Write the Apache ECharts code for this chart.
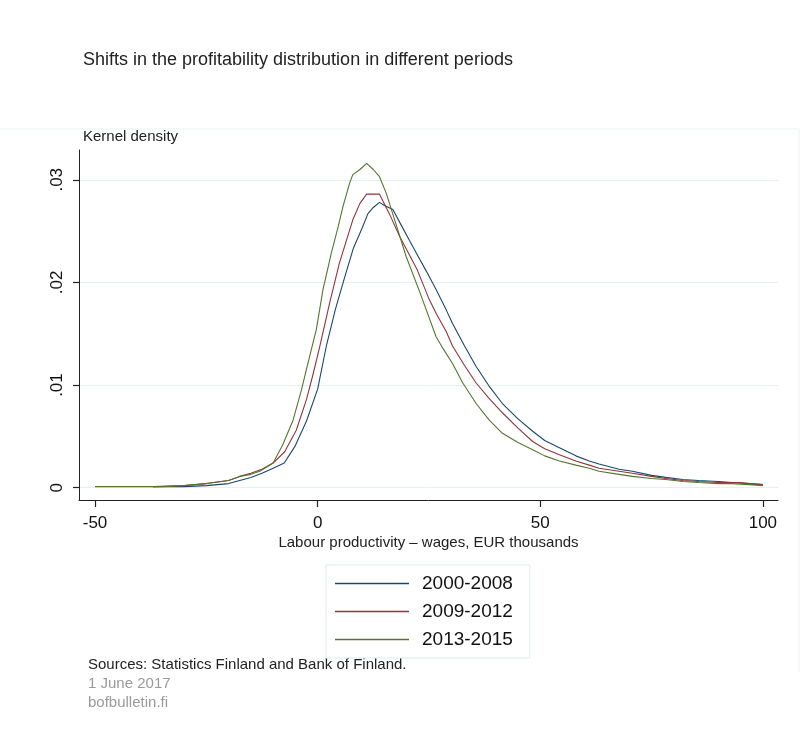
<!DOCTYPE html>
<html>
	<head>
		<meta charset="utf-8" />
		<title>Profitability distribution</title>
		<style type="text/css">
			body,
			html,
			#chart {
				width: 100%;
				height: 100%;
				overflow: hidden;
				margin: 0;
				background: #fff;
			}
		</style>
	</head>
	<body>
		<div id="chart"></div>
		<script src="https://cdn.jsdelivr.net/npm/echarts@6/dist/echarts.min.js"></script>
		<script>
			// values (x = EUR thousands, y = kernel density)
			var names = ['2000-2008', '2009-2012', '2013-2015'];
			var colors = ['#1a476f', '#90353b', '#55752f'];

			var x0008 = [-37, -30, -25, -20, -17.5, -15, -12.5, -10, -7.5, -5, -2.5, 0, 2, 4, 6, 8, 10, 11.3, 12.5, 13.9, 15, 16.9, 18.5, 20.6, 22.5, 24.4, 26.6, 28.9, 30.3, 33, 35.6, 38.5, 41.5, 45, 48.3, 51, 54.3, 58, 61, 63.2, 67.7, 70.7, 75, 78.2, 82, 85.6, 90, 93.1, 97, 100];
			var y0008 = [0.0001, 0.0001, 0.0002, 0.0004, 0.0007, 0.0010, 0.0014, 0.0019, 0.0024, 0.0041, 0.0065, 0.0096, 0.0139, 0.0174, 0.0204, 0.0233, 0.0253, 0.0267, 0.0273, 0.0278, 0.0275, 0.0271, 0.0258, 0.0241, 0.0226, 0.0211, 0.0193, 0.0173, 0.0160, 0.0138, 0.0118, 0.0099, 0.0082, 0.0067, 0.0055, 0.0046, 0.0039, 0.0031, 0.0026, 0.0023, 0.0018, 0.0016, 0.0012, 0.0010, 0.0008, 0.0007, 0.0006, 0.0005, 0.0004, 0.0003];

			var x0912 = [-37, -30, -25, -20, -17.5, -15, -12.5, -10, -7.4, -4.8, -2.5, -1, 0.5, 2.7, 4.9, 7.9, 9.5, 11, 13.9, 16.1, 18.4, 22.4, 25.1, 26.6, 28.9, 30.3, 33, 35.6, 38.5, 41.5, 45, 48.3, 51, 54.3, 58, 61, 63.2, 67.7, 70.7, 75, 78.2, 82, 85.6, 90, 94.6, 97, 100];
			var y0912 = [0.0001, 0.0002, 0.0004, 0.0007, 0.0011, 0.0014, 0.0018, 0.0024, 0.0035, 0.0056, 0.0086, 0.0111, 0.0138, 0.0180, 0.0219, 0.0261, 0.0277, 0.0286, 0.0286, 0.0267, 0.0245, 0.0212, 0.0183, 0.0170, 0.0152, 0.0138, 0.0119, 0.0102, 0.0087, 0.0073, 0.0058, 0.0045, 0.0038, 0.0032, 0.0026, 0.0022, 0.0019, 0.0016, 0.0014, 0.0011, 0.0009, 0.0007, 0.0006, 0.0005, 0.0005, 0.0004, 0.0003];

			var x1315 = [-50, -40, -35, -30, -25, -20, -17.5, -15, -13, -10, -7.8, -5.5, -3.65, -1.8, -0.3, 1.2, 3.1, 4.6, 5.7, 7.2, 7.9, 9.5, 11, 12.5, 13.9, 15.4, 17.3, 19.9, 22.9, 25.1, 26.6, 28.1, 30.3, 32.6, 35.6, 38.5, 41.5, 45, 48.3, 51, 54.3, 58, 61, 63.2, 67.7, 70.7, 75, 78.2, 82, 85.6, 90, 93.1, 97, 100];
			var y1315 = [0.0001, 0.0001, 0.0001, 0.0002, 0.0004, 0.0007, 0.0011, 0.0013, 0.0016, 0.0024, 0.0042, 0.0066, 0.0095, 0.0128, 0.0154, 0.0193, 0.0229, 0.0254, 0.0274, 0.0297, 0.0305, 0.0310, 0.0316, 0.0310, 0.0303, 0.0287, 0.0261, 0.0225, 0.0191, 0.0165, 0.0147, 0.0136, 0.0121, 0.0102, 0.0082, 0.0066, 0.0053, 0.0044, 0.0037, 0.0031, 0.0026, 0.0022, 0.0019, 0.0016, 0.0013, 0.0011, 0.0009, 0.0008, 0.0006, 0.0005, 0.0004, 0.0004, 0.0003, 0.0002];

			var xTicks = [-50, 0, 50, 100];
			var yTicks = [0, 0.01, 0.02, 0.03];

			function pairs(xs, ys) {
				return xs.map(function (x, i) {
					return [x, ys[i]];
				});
			}
			var allData = [pairs(x0008, y0008), pairs(x0912, y0912), pairs(x1315, y1315)];

			var chart = echarts.init(document.getElementById('chart'));
			var font = '"Liberation Sans", Arial, sans-serif';

			var option = {
				animation: false,
				backgroundColor: '#fff',
				textStyle: { fontFamily: font },
				title: {
					text: 'Shifts in the profitability distribution in different periods',
					left: 78,
					top: 46,
					textStyle: { fontSize: 18, fontWeight: 'normal', color: '#222', fontFamily: font },
				},
				grid: { left: 79, right: 22, top: 150, bottom: 229 },
				legend: {
					orient: 'vertical',
					left: 326,
					top: 565,
					width: 204,
					data: names,
					icon: 'rect',
					itemWidth: 74,
					itemHeight: 1.5,
					itemGap: 9,
					padding: [9, 17, 9, 9],
					borderColor: '#dfeaed',
					borderWidth: 1,
					textStyle: { fontSize: 19, color: '#111', fontFamily: font, padding: [0, 0, 0, 8] },
				},
				xAxis: {
					type: 'value',
					min: -53.6,
					max: 103.4,
					name: 'Labour productivity – wages, EUR thousands',
					nameLocation: 'middle',
					nameGap: 35,
					nameTextStyle: { fontSize: 15, color: '#222' },
					axisLine: { show: true, onZero: false, lineStyle: { color: '#222', width: 1 } },
					axisTick: { show: true, customValues: xTicks, length: 7, lineStyle: { color: '#222', width: 1.2 } },
					axisLabel: { customValues: xTicks, fontSize: 17, color: '#111', margin: 15 },
					splitLine: { show: false },
				},
				yAxis: {
					type: 'value',
					min: -0.0012,
					max: 0.0329,
					name: 'Kernel density',
					nameLocation: 'end',
					nameGap: 6,
					nameTextStyle: { fontSize: 15, color: '#222', align: 'left', padding: [0, 0, 0, 4] },
					axisLine: { show: true, onZero: false, lineStyle: { color: '#222', width: 1 } },
					axisTick: { show: true, customValues: yTicks, length: 6, lineStyle: { color: '#222', width: 1.2 } },
					axisLabel: {
						customValues: yTicks,
						rotate: 90,
						fontSize: 17,
						color: '#111',
						margin: 13,
						formatter: function (v) {
							return v === 0 ? '0' : String(v).replace(/^0/, '');
						},
					},
					splitLine: { show: true, lineStyle: { color: '#e6eff2', width: 1 } },
				},
				graphic: [
					{
						type: 'polyline',
						shape: { points: [[0, 129], [799, 129], [799, 672]] },
						style: { stroke: '#edf3f4', fill: null, lineWidth: 1 },
					},
					{
						type: 'text',
						left: 88,
						top: 657,
						style: { text: 'Sources: Statistics Finland and Bank of Finland.', fontSize: 15, fill: '#222', fontFamily: font },
					},
					{
						type: 'text',
						left: 88,
						top: 676,
						style: { text: '1 June 2017', fontSize: 15, fill: '#9a9a9a', fontFamily: font },
					},
					{
						type: 'text',
						left: 88,
						top: 695,
						style: { text: 'bofbulletin.fi', fontSize: 15, fill: '#9a9a9a', fontFamily: font },
					},
				],
				series: names.map(function (n, i) {
					return {
						name: n,
						type: 'line',
						data: allData[i],
						symbol: 'none',
						smooth: false,
						color: colors[i],
						lineStyle: { width: 1.1, color: colors[i] },
					};
				}),
			};
			chart.setOption(option);
		</script>
	</body>
</html>
